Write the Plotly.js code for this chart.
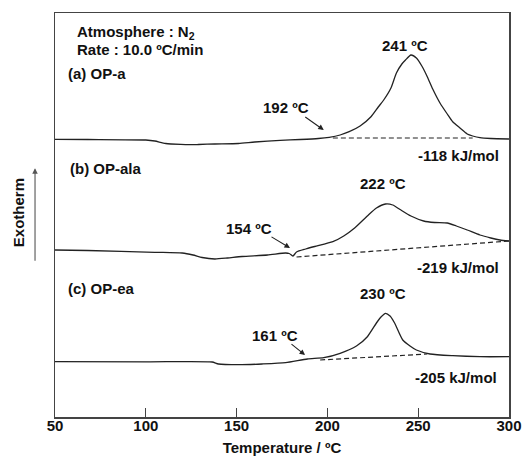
<!DOCTYPE html>
<html>
<head>
<meta charset="utf-8">
<script src="https://cdn.plot.ly/plotly-3.0.1.min.js"></script>
<style>html,body{margin:0;padding:0;background:#fff;}#chart{width:526px;height:456px;}</style>
</head>
<body>
<div id="chart"></div>
<script>
// Temperature (°C) and signal (arbitrary units, offset per curve)
const tempA = [50, 68, 100, 105, 111, 127, 129, 138, 151, 160, 174, 185, 195, 201, 207, 212, 218, 224, 228, 231, 235, 238, 241, 243, 246, 249, 252, 255, 258, 262, 266, 269, 273, 277, 280, 284, 290, 300];
const sigA  = [277.7, 277.5, 277, 276, 273.5, 272.3, 272.5, 273, 273.5, 275, 276.7, 277.5, 278.5, 279.7, 282, 285.3, 291, 300.3, 310, 317, 329, 344, 353, 357, 362, 359, 351, 340.3, 328, 314, 303, 295.3, 289, 283, 281, 279.3, 278.5, 278];

const tempB = [50, 68, 105, 120, 126, 131, 138, 145, 153, 167, 177, 179, 181, 183, 188, 193, 203, 209, 215, 222, 227, 232, 236, 240, 246, 253, 259, 266, 271, 277, 284, 290, 295, 300];
const sigB  = [167, 166.5, 164.7, 164, 162, 159.5, 158, 159, 160.5, 162, 164, 163.5, 161, 165, 168, 170.5, 175.3, 181, 189, 201, 209, 213, 212, 207.5, 201, 196, 194.5, 194, 191, 187, 182, 179, 177, 176];

const tempC = [50, 102, 136.5, 140, 151, 164, 177, 189, 198, 207, 216, 222, 227, 229.5, 232, 234.5, 237, 241.5, 245.5, 249, 256.5, 269, 284, 300];
const sigC  = [55.3, 55.2, 55, 53, 52.3, 53, 54.3, 58, 59.3, 63.7, 71, 80.3, 94, 100, 103.7, 101, 94, 77, 71, 67, 63, 61.3, 60.3, 60.3];

// Dashed baselines (start and end)
const baseTempA = [203, 280];
const baseSigA  = [279, 279];
const baseTempB = [183, 300];
const baseSigB  = [160, 176];
const baseTempC = [196, 255];
const baseSigC  = [57, 63];

const xTicks = [50, 100, 150, 200, 250, 300];

const lineCol = '#222';
const traces = [
  {x: tempA, y: sigA, mode: 'lines', line: {color: lineCol, width: 1.3, shape: 'spline', smoothing: 0.6}},
  {x: tempB, y: sigB, mode: 'lines', line: {color: lineCol, width: 1.3, shape: 'spline', smoothing: 0.6}},
  {x: tempC, y: sigC, mode: 'lines', line: {color: lineCol, width: 1.3, shape: 'spline', smoothing: 0.6}},
  {x: baseTempA, y: baseSigA, mode: 'lines', line: {color: lineCol, width: 1.2, dash: '5px,3px'}},
  {x: baseTempB, y: baseSigB, mode: 'lines', line: {color: lineCol, width: 1.2, dash: '5px,3px'}},
  {x: baseTempC, y: baseSigC, mode: 'lines', line: {color: lineCol, width: 1.2, dash: '5px,3px'}}
];

const F = {family: 'Liberation Sans, Arial, sans-serif', size: 15, color: '#111', weight: 'bold'};
function txt(text, x, y, anchor) {
  return {text: text, x: x, y: y, xref: 'x', yref: 'y', showarrow: false, xanchor: anchor || 'center', yanchor: 'middle', font: F};
}
function arr(x, y, ax, ay) {
  return {text: '', x: x, y: y, ax: ax, ay: ay, xref: 'x', yref: 'y', axref: 'x', ayref: 'y', showarrow: true, arrowhead: 2, arrowsize: 1, arrowwidth: 1.1, arrowcolor: '#222'};
}

const annotations = [
  txt('Atmosphere : N<sub>2</sub>', 61, 385, 'left'),
  txt('Rate : 10.0 ºC/min', 61, 368, 'left'),
  txt('(a) OP-a', 56, 344, 'left'),
  txt('241 ºC', 242.7, 372),
  txt('192 ºC', 177, 310),
  arr(198, 287, 187, 301),
  txt('-118 kJ/mol', 272, 262),
  txt('(b) OP-ala', 57, 249, 'left'),
  txt('222 ºC', 230.6, 234),
  txt('154 ºC', 156.8, 189),
  arr(179.4, 169, 168.4, 181),
  txt('-219 kJ/mol', 272, 150),
  txt('(c) OP-ea', 56, 129, 'left'),
  txt('230 ºC', 230.6, 124),
  txt('161 ºC', 171, 82),
  arr(187.7, 62, 179.4, 74),
  txt('-205 kJ/mol', 271, 40),
  {text: 'Exotherm', xref: 'paper', yref: 'paper', x: -0.0815, y: 0.507, xanchor: 'center', yanchor: 'middle', showarrow: false, textangle: -90, font: F},
  {text: '', xref: 'paper', yref: 'paper', x: -0.044, y: 0.616, ax: 0, ay: 94, axref: 'pixel', ayref: 'pixel', showarrow: true, arrowhead: 2, arrowsize: 1, arrowwidth: 1.1, arrowcolor: '#555'}
];

const layout = {
  width: 526, height: 456,
  margin: {l: 55, r: 17, t: 13, b: 39, pad: 0},
  paper_bgcolor: '#fff', plot_bgcolor: '#fff',
  showlegend: false,
  font: F,
  xaxis: {
    range: [50, 300], tickvals: xTicks, ticktext: xTicks.map(String),
    ticks: 'inside', ticklen: 9, tickwidth: 1.3, tickcolor: '#444',
    ticklabelstandoff: -6,
    showline: true, linecolor: '#444', linewidth: 1.5, mirror: true,
    showgrid: false, zeroline: false, tickfont: F,
    title: {text: 'Temperature / ºC', font: F, standoff: 15}
  },
  yaxis: {
    range: [0, 404], showticklabels: false, ticks: '',
    showline: true, linecolor: '#444', linewidth: 1.5, mirror: true,
    showgrid: false, zeroline: false
  },
  annotations: annotations
};

Plotly.newPlot('chart', traces, layout, {staticPlot: true, displayModeBar: false});
</script>
</body>
</html>
